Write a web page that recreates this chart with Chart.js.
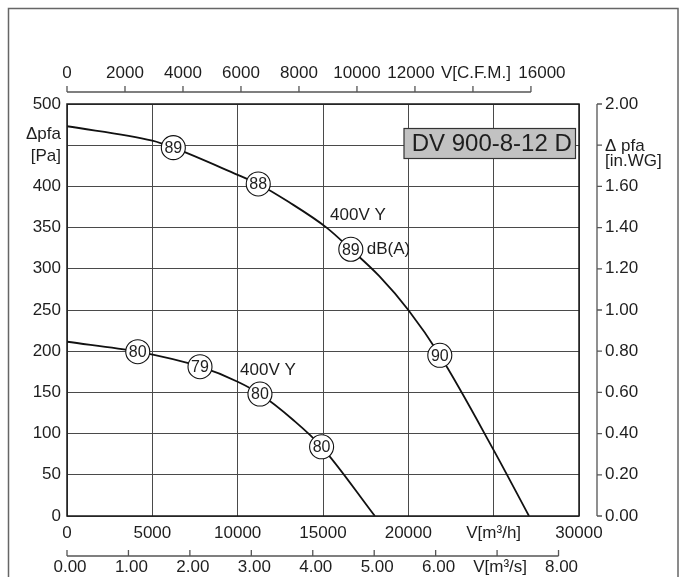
<!DOCTYPE html>
<html><head><meta charset="utf-8">
<script src="https://cdn.jsdelivr.net/npm/chart.js@4.4.1/dist/chart.umd.min.js"></script>
<style>html,body{margin:0;padding:0;background:#fff;}canvas{display:block;}</style>
</head><body>
<canvas id="c" width="684" height="577"></canvas>
<script>
// ---- data (flow in m³/h, pressure in Pa) ----
const upperFlow = [0, 5000, 6230, 10000, 11206, 13000, 15210, 16630, 18300, 20000, 21844, 25000, 27070];
const upperPa   = [473, 455.5, 447, 414, 403, 381, 350, 323.7, 291, 250, 195, 80, 0];
const lowerFlow = [0, 4145, 7793, 10000, 11306, 13256, 14918, 18040];
const lowerPa   = [211.5, 199.4, 181.2, 163, 148, 116.5, 84, 0];

const upperMarkFlow = [6230, 11206, 16630, 21844];
const upperMarkPa   = [447, 403, 323.7, 195];
const upperMarkLabels = ['89', '88', '89', '90'];
const lowerMarkFlow = [4145, 7793, 11306, 14918];
const lowerMarkPa   = [199.4, 181.2, 148, 84];
const lowerMarkLabels = ['80', '79', '80', '80'];

// ---- tick labels ----
const flowTicks  = [0, 5000, 10000, 15000, 20000, 25000, 30000];
const flowLabels = ['0', '5000', '10000', '15000', '20000', 'V[m³/h]', '30000'];
const paTicks    = [0, 50, 100, 150, 200, 250, 300, 350, 400, 450, 500];
const paLabels   = ['0', '50', '100', '150', '200', '250', '300', '350', '400', ['\u0394pfa', '[Pa]'], '500'];
const cfmTicks   = [0, 2000, 4000, 6000, 8000, 10000, 12000, 14000, 16000];
const cfmLabels  = ['0', '2000', '4000', '6000', '8000', '10000', '12000', 'V[C.F.M.]', '16000'];
const msTicks    = [0, 1, 2, 3, 4, 5, 6, 7, 8];
const msLabels   = ['0.00', '1.00', '2.00', '3.00', '4.00', '5.00', '6.00', 'V[m³/s]', '8.00'];
const wgTicks    = [0, 0.2, 0.4, 0.6, 0.8, 1.0, 1.2, 1.4, 1.6, 1.8, 2.0];
const wgLabels   = ['0.00', '0.20', '0.40', '0.60', '0.80', '1.00', '1.20', '1.40', '1.60', '', '2.00'];
const wgUnit     = ['\u0394 pfa', '[in.WG]'];

// ---- annotations (anchor in data units) ----
const noteText = ['400V Y', 'dB(A)', '400V Y'];
const noteFlow = [15413, 17563, 10143];
const notePa   = [365, 324, 177];
const titleText = 'DV 900-8-12 D';

const FONT = "'Liberation Sans', Arial, Helvetica, sans-serif";
const TXT = '#1e1e1e';
const M3H_PER_CFM = 1.699;
// small horizontal nudges of crowded top-axis labels (px)
const cfmNudge = [0, 0, 0, 0, 0, 0, -4, 3, 11];

const pts = (xs, ys) => xs.map((x, i) => ({x, y: ys[i]}));

const deco = {
  id: 'deco',
  beforeDraw(chart) {
    const {ctx, width, height} = chart;
    ctx.save(); ctx.fillStyle = '#fff'; ctx.fillRect(0, 0, width, height); ctx.restore();
  },
  afterDatasetsDraw(chart) {
    const ctx = chart.ctx, a = chart.chartArea;
    const sx = chart.scales.x, sy = chart.scales.y;
    const sc = chart.scales.cfm, sm = chart.scales.ms, sw = chart.scales.inwg;
    ctx.save();
    // plot frame
    ctx.strokeStyle = '#1a1a1a'; ctx.lineWidth = 1.5;
    ctx.strokeRect(a.left, a.top, a.right - a.left, a.bottom - a.top);
    // outer frame
    ctx.strokeStyle = '#666'; ctx.lineWidth = 1.5;
    ctx.strokeRect(8.5, 8.5, 669.5, 640);

    // circle labels
    ctx.fillStyle = TXT; ctx.textAlign = 'center'; ctx.textBaseline = 'middle';
    ctx.font = '16px ' + FONT;
    [[2, upperMarkLabels], [3, lowerMarkLabels]].forEach(([di, labs]) => {
      chart.getDatasetMeta(di).data.forEach((p, i) => ctx.fillText(labs[i], p.x, p.y + 1));
    });
    // notes
    ctx.font = '17px ' + FONT; ctx.textAlign = 'left';
    noteText.forEach((t, i) => ctx.fillText(t, sx.getPixelForValue(noteFlow[i]), sy.getPixelForValue(notePa[i])));

    // title box
    const bw = 171.5, bh = 30;
    const bx = a.right - 175, by = a.top + 24.5;
    ctx.fillStyle = '#c2c2c2'; ctx.fillRect(bx, by, bw, bh);
    ctx.strokeStyle = '#333'; ctx.lineWidth = 1.2; ctx.strokeRect(bx, by, bw, bh);
    ctx.fillStyle = TXT; ctx.font = '24px ' + FONT; ctx.textAlign = 'center';
    ctx.fillText(titleText, bx + bw / 2 + 2, by + bh / 2 + 1);

    // top CFM axis
    ctx.strokeStyle = '#555'; ctx.lineWidth = 1.3; ctx.font = '17px ' + FONT;
    const ty = a.top - 12;
    ctx.beginPath();
    ctx.moveTo(sc.getPixelForValue(cfmTicks[0]), ty);
    ctx.lineTo(sc.getPixelForValue(cfmTicks[cfmTicks.length - 1]), ty);
    cfmTicks.forEach(v => { const x = sc.getPixelForValue(v); ctx.moveTo(x, ty); ctx.lineTo(x, ty - 6); });
    ctx.stroke();
    ctx.fillStyle = TXT; ctx.textAlign = 'center';
    cfmTicks.forEach((v, i) => ctx.fillText(cfmLabels[i], sc.getPixelForValue(v) + cfmNudge[i], ty - 18.5));

    // bottom m³/s axis
    const my = a.bottom + 40;
    ctx.beginPath();
    ctx.moveTo(sm.getPixelForValue(msTicks[0]), my);
    ctx.lineTo(sm.getPixelForValue(msTicks[msTicks.length - 1]), my);
    msTicks.forEach(v => { const x = sm.getPixelForValue(v); ctx.moveTo(x, my); ctx.lineTo(x, my - 6); });
    ctx.stroke();
    msTicks.forEach((v, i) => ctx.fillText(msLabels[i], sm.getPixelForValue(v) + 3, my + 11.5));

    // right in.WG axis
    const rx = a.right + 18;
    ctx.beginPath();
    ctx.moveTo(rx, sw.getPixelForValue(wgTicks[0]));
    ctx.lineTo(rx, sw.getPixelForValue(wgTicks[wgTicks.length - 1]));
    wgTicks.forEach(v => { const y = sw.getPixelForValue(v); ctx.moveTo(rx, y); ctx.lineTo(rx + 5, y); });
    ctx.stroke();
    ctx.textAlign = 'left';
    wgTicks.forEach((v, i) => { if (wgLabels[i]) ctx.fillText(wgLabels[i], rx + 8, sw.getPixelForValue(v)); });
    const uy = sw.getPixelForValue(1.8);
    ctx.fillText(wgUnit[0], rx + 8, uy + 1);
    ctx.fillText(wgUnit[1], rx + 8, uy + 16);
    ctx.restore();
  }
};

Chart.defaults.font.family = FONT;
Chart.defaults.font.size = 17;
Chart.defaults.color = TXT;

new Chart(document.getElementById('c'), {
  type: 'line',
  data: {
    datasets: [
      { data: pts(upperFlow, upperPa), borderColor: '#111', borderWidth: 1.8, pointRadius: 0,
        cubicInterpolationMode: 'monotone', fill: false, order: 3 },
      { data: pts(lowerFlow, lowerPa), borderColor: '#111', borderWidth: 1.8, pointRadius: 0,
        cubicInterpolationMode: 'monotone', fill: false, order: 3 },
      { data: pts(upperMarkFlow, upperMarkPa), showLine: false, pointRadius: 12, pointHoverRadius: 12,
        pointBackgroundColor: '#fff', pointBorderColor: '#111', pointBorderWidth: 1.1, order: 1 },
      { data: pts(lowerMarkFlow, lowerMarkPa), showLine: false, pointRadius: 12, pointHoverRadius: 12,
        pointBackgroundColor: '#fff', pointBorderColor: '#111', pointBorderWidth: 1.1, order: 1 }
    ]
  },
  options: {
    responsive: false, animation: false, devicePixelRatio: 1,
    layout: { padding: { top: 104, right: 105, left: 0, bottom: 0 } },
    plugins: { legend: { display: false }, tooltip: { enabled: false } },
    scales: {
      x: {
        type: 'linear', position: 'bottom', min: 0, max: 30000,
        afterBuildTicks: s => { s.ticks = flowTicks.map(v => ({value: v})); },
        afterFit: s => { s.height = 61; },
        ticks: { autoSkip: false, maxRotation: 0, padding: 7,
                 callback: (v) => flowLabels[flowTicks.indexOf(v)] },
        grid: { color: '#4a4a4a', lineWidth: 1, drawTicks: false },
        border: { display: false }
      },
      y: {
        type: 'linear', position: 'left', min: 0, max: 500,
        afterBuildTicks: s => { s.ticks = paTicks.map(v => ({value: v})); },
        afterFit: s => { s.width = 67; },
        ticks: { autoSkip: false, padding: 6, font: { size: 17, lineHeight: 1.3 },
                 callback: (v) => paLabels[paTicks.indexOf(v)] },
        grid: { color: '#4a4a4a', lineWidth: 1, drawTicks: false },
        border: { display: false }
      },
      cfm: { type: 'linear', axis: 'x', position: 'top', display: false, min: 0, max: 30000 / M3H_PER_CFM },
      ms: { type: 'linear', axis: 'x', position: 'bottom', display: false, min: 0, max: 30000 / 3600 },
      inwg: { type: 'linear', axis: 'y', position: 'right', display: false, min: 0, max: 2 }
    }
  },
  plugins: [deco]
});
</script>
</body></html>
